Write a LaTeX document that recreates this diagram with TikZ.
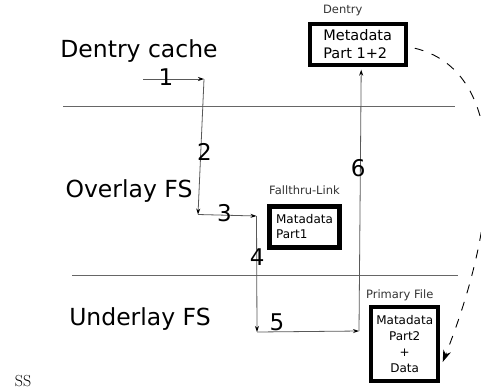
\documentclass[tikz,border=0pt]{standalone}
\usepackage{fontspec}
\newfontfamily\dvs{DejaVu Sans}
\usetikzlibrary{arrows.meta,positioning}

\begin{document}
\begin{tikzpicture}[
  x=1pt, y=-1pt,
  every node/.style={font=\dvs},
  layer/.style={font=\dvs\fontsize{23.5}{28}\selectfont, anchor=base, inner sep=0pt},
  stepnum/.style={font=\dvs\fontsize{23}{28}\selectfont, anchor=base, inner sep=0pt},
  caption/.style={font=\dvs\fontsize{11.5}{14}\selectfont, text=black!80, text depth=0pt, inner sep=1pt},
  meta/.style={draw, line width=4pt, align=left, inner sep=0pt},
  flow/.style={draw=black!65, line width=0.8pt, -{Stealth[length=6pt,width=4pt,black]}},
  divider/.style={draw=black!60, line width=0.8pt}
]
\useasboundingbox (0,0) rectangle (481,389);

% layers and the lines between them:
\node[layer] (cache) at (139,57) {Dentry cache};
\node[layer] (overlay) at (129,197.5) {Overlay FS};
\node[layer] (underlay) at (140,325) {Underlay FS};
\coordinate (l1a) at (63,106);  \coordinate (l1b) at (455,106);
\coordinate (l2a) at (72,275.5); \coordinate (l2b) at (458,275.5);
\draw[divider] (l1a) -- (l1b);
\draw[divider] (l2a) -- (l2b);

% metadata boxes:
\node[meta, minimum width=96pt, minimum height=41pt, font=\dvs\fontsize{14.5}{18.3}\selectfont]
  (dentry) at (357.7,44.2) {Metadata\\Part 1+2};
\node[meta, line width=5pt, minimum width=70pt, minimum height=41pt, font=\dvs\fontsize{12}{15}\selectfont]
  (fallthru) at (304.5,227) {Matadata\\Part1};
\node[meta, align=center, minimum width=67pt, minimum height=74pt, font=\dvs\fontsize{12}{16.3}\selectfont]
  (primary) at (404.7,344) {Matadata\\Part2\\+\\Data};
\node[caption, above=7pt of dentry, xshift=-15pt] (dentrycap) {Dentry};
\node[caption, above=8pt of fallthru] (fallthrucap) {Fallthru-Link};
\node[caption, above=5pt of primary, xshift=-5pt] (primarycap) {Primary File};

% lookup path 1..6
\coordinate (s1) at (143,79);
\coordinate (c1) at (204,79);
\coordinate (c2) at (198,214.5);
\coordinate (c3) at (256.5,216);
\coordinate (c4) at (257,332);
\coordinate (c5) at (359,331);
\draw[flow] (s1) -- (c1);
\draw[flow] (c1) -- (c2);
\draw[flow] (c2) -- (c3);
\draw[flow] (c3) -- (c4);
\draw[flow] (c4) -- (c5);
\draw[flow] (c5) -- ([xshift=3.5pt,yshift=-3pt]dentry.south);
\node[stepnum] (n1) at (166,85) {1};
\node[stepnum] (n2) at (204.5,160) {2};
\node[stepnum] (n3) at (224.5,221.7) {3};
\node[stepnum] (n4) at (257.3,265) {4};
\node[stepnum] (n5) at (277,330) {5};
\node[stepnum] (n6) at (358.3,176.7) {6};

% copy-up of the dentry data:
\draw[line width=0.9pt, dash pattern=on 9pt off 9pt, -{Stealth[length=12pt,width=8pt]}]
  ([xshift=7pt,yshift=-4pt]dentry.east) .. controls (505,70) and (505,205) .. ([xshift=2.5pt,yshift=-18pt]primary.east);

\node[font=\rmfamily\fontsize{16}{18}\selectfont, anchor=base, inner sep=0pt] (ss) at (23,386.5) {SS};
\end{tikzpicture}
\end{document}
